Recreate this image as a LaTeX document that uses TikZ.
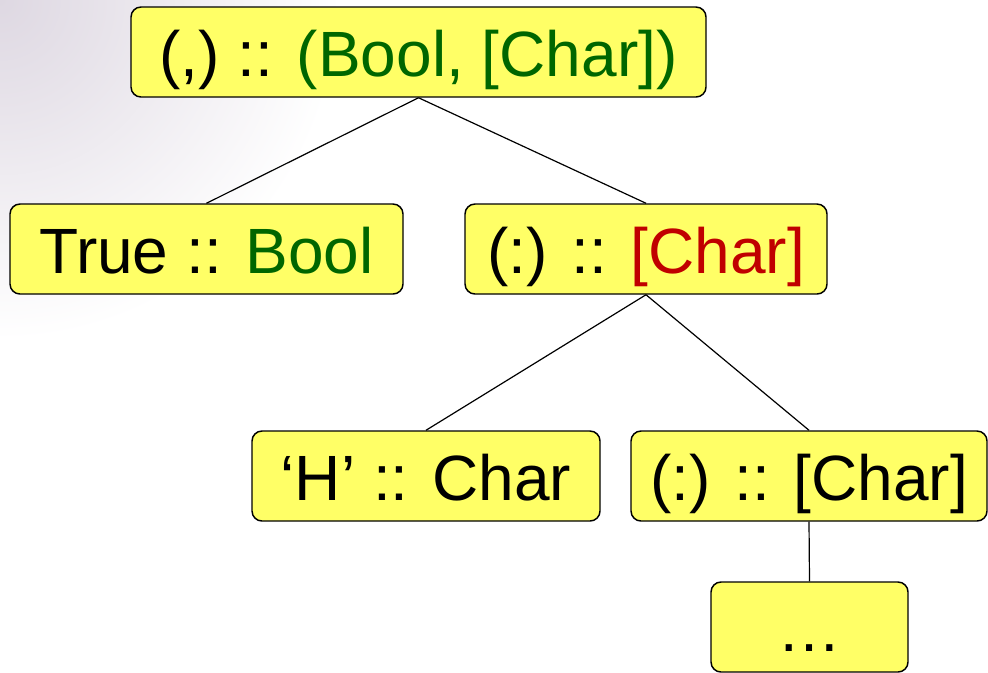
\documentclass[tikz,border=0pt]{standalone}
\usepackage{fontspec}
\setmainfont{Liberation Sans}
\definecolor{boxfill}{RGB}{255,255,102}
\definecolor{tgreen}{RGB}{0,102,0}
\definecolor{tred}{RGB}{192,0,0}
\definecolor{bgshade}{RGB}{222,216,226}
\pgfdeclareradialshading{cornerfade}{\pgfpoint{0bp}{0bp}}{color(0bp)=(bgshade); color(8bp)=(bgshade!70!white); color(25bp)=(white); color(50bp)=(white)}
\tikzset{
  tbox/.style={draw=black, line width=1.1pt, fill=boxfill, rounded corners=7.5pt,
    inner sep=0pt, text height=51.75pt, text depth=15.75pt, align=center,
    font=\fontsize{48}{56}\selectfont},
  edge/.style={draw=black, line width=0.9pt}
}
\begin{document}
\begin{tikzpicture}[x=0.75pt,y=-0.75pt]
\useasboundingbox (0,0) rectangle (988,672);
\fill[white] (0,0) rectangle (988,672);
\begin{scope}
  \clip (0,0) rectangle (988,672);
  \shade[shading=cornerfade] (0,0) circle (340);
\end{scope}
\node[tbox, minimum width=431.25pt, minimum height=67.5pt] (top) at (418.5,52)
  {(,) :: \textcolor{tgreen}{(Bool, [Char])}};
\node[tbox, minimum width=294.75pt, minimum height=67.5pt] (tru) at (206.5,249)
  {True :: \textcolor{tgreen}{Bool}};
\node[tbox, minimum width=271.5pt, minimum height=67.5pt] (consa) at (646,249)
  {(:) :: \textcolor{tred}{[Char]}};
\node[tbox, minimum width=261pt, minimum height=67.5pt] (hch) at (426,476)
  {‘H’ :: Char};
\node[tbox, minimum width=267pt, minimum height=67.5pt] (consb) at (809,476)
  {(:) :: [Char]};
\node[tbox, minimum width=147.75pt, minimum height=67.5pt] (dots) at (809.5,627)
  {…};
\draw[edge] (top.south) -- (tru.north);
\draw[edge] (top.south) -- (consa.north);
\draw[edge] (consa.south) -- (hch.north);
\draw[edge] (consa.south) -- (consb.north);
\draw[edge] (consb.south) -- (dots.north);
\end{tikzpicture}
\end{document}
